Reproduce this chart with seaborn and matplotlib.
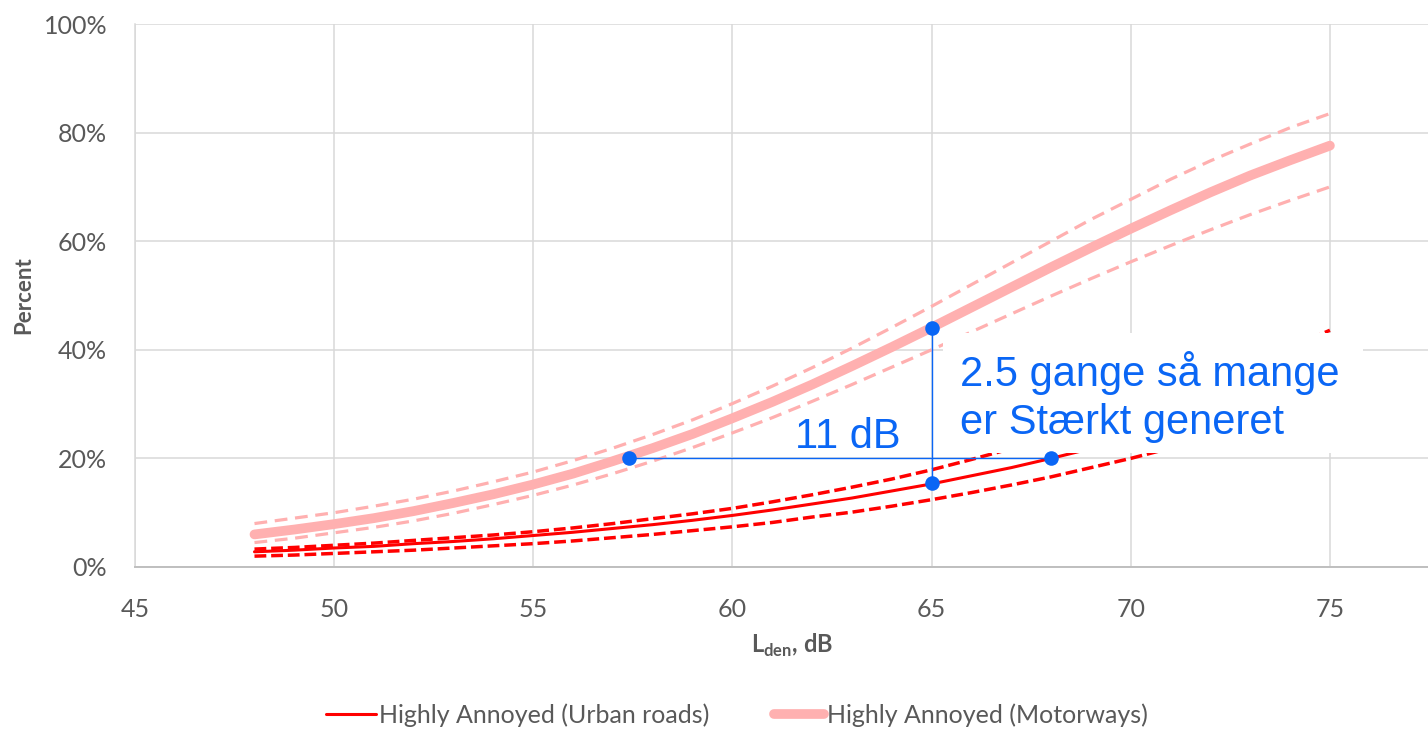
import matplotlib
matplotlib.use("Agg")
import matplotlib.pyplot as plt
from matplotlib.patches import Rectangle
from matplotlib.ticker import PercentFormatter
from matplotlib.lines import Line2D
import seaborn as sns

# Noise level, L_den in dB
lden = [48, 49, 50, 51, 52, 53, 54, 55, 56, 57, 58, 59, 60, 61,
        62, 63, 64, 65, 66, 67, 68, 69, 70, 71, 72, 73, 74, 75]

# Percent highly annoyed – motorways (mean and confidence band)
motorway_mean = [6.0, 6.9, 7.9, 9.0, 10.3, 11.8, 13.4, 15.2, 17.2, 19.5, 21.9, 24.5, 27.4, 30.4,
                 33.6, 37.0, 40.5, 44.1, 47.8, 51.5, 55.2, 58.8, 62.3, 65.7, 69.0, 72.1, 74.9, 77.6]
motorway_upper = [8.0, 9.0, 10.0, 11.2, 12.5, 14.0, 15.7, 17.5, 19.6, 21.9, 24.4, 27.1, 30.1, 33.3,
                  36.7, 40.3, 44.1, 48.0, 52.0, 56.0, 60.0, 64.0, 67.7, 71.4, 74.8, 77.9, 80.9, 83.5]
motorway_lower = [4.5, 5.3, 6.3, 7.3, 8.5, 9.9, 11.5, 13.2, 15.1, 17.2, 19.5, 22.0, 24.7, 27.5,
                  30.5, 33.6, 36.8, 40.0, 43.3, 46.6, 49.9, 53.1, 56.2, 59.2, 62.1, 64.9, 67.5, 70.0]

# Percent highly annoyed – urban roads (mean and confidence band)
urban_mean = [2.8, 3.1, 3.5, 3.8, 4.3, 4.7, 5.2, 5.8, 6.4, 7.1, 7.8, 8.6, 9.5, 10.5,
              11.6, 12.7, 14.0, 15.3, 16.8, 18.3, 20.0, 21.8, 23.7, 25.7, 27.8, 30.0, 32.3, 34.7]
urban_upper = [3.3, 3.6, 4.0, 4.4, 4.9, 5.4, 5.9, 6.5, 7.2, 8.0, 8.9, 9.8, 10.8, 12.0,
               13.3, 14.7, 16.2, 17.9, 19.8, 21.8, 23.9, 26.3, 28.8, 31.5, 34.3, 37.3, 40.4, 43.6]
urban_lower = [2.0, 2.2, 2.5, 2.8, 3.1, 3.5, 3.9, 4.3, 4.8, 5.4, 6.0, 6.7, 7.4, 8.2,
               9.2, 10.1, 11.2, 12.4, 13.7, 15.1, 16.6, 18.3, 20.0, 21.9, 23.9, 26.1, 28.3, 30.7]

# Comparison markers: equal annoyance (20 %) and equal level (65 dB)
equal_pct = 20
equal_pct_levels = [57.4, 68.0]
equal_level = 65
equal_level_pcts = [15.5, 44.1]

x_ticks = [45, 50, 55, 60, 65, 70, 75]
y_ticks = [0, 20, 40, 60, 80, 100]

legend_labels = ["Highly Annoyed (Urban roads)", "Highly Annoyed (Motorways)"]
gap_label = "11 dB"
ratio_label = "2.5 gange så mange\ner Stærkt generet"

sns.set_theme(style="whitegrid")
plt.rcParams["font.family"] = ["Lato", "DejaVu Sans"]
plt.rcParams["mathtext.fontset"] = "custom"
plt.rcParams["mathtext.rm"] = "Lato"
plt.rcParams["mathtext.bf"] = "Lato:bold"

TXT = "#595959"
GRID = "#D9D9D9"
PINK = "#FFB0B0"
RED = "#FF0000"
BLUE = "#0A66F5"

fig = plt.figure(figsize=(14.28, 7.29), dpi=100)
ax = fig.add_axes([135 / 1428, 162 / 729, 1 - 135 / 1428, 543 / 729])

# Motorways
sns.lineplot(x=lden, y=motorway_upper, ax=ax, color=PINK, lw=2.3,
             linestyle=(0, (4, 2.4)), zorder=2)
sns.lineplot(x=lden, y=motorway_lower, ax=ax, color=PINK, lw=2.3,
             linestyle=(0, (4, 2.4)), zorder=2)
sns.lineplot(x=lden, y=motorway_mean, ax=ax, color=PINK, lw=7,
             solid_capstyle="round", zorder=2.1)

# Urban roads
sns.lineplot(x=lden, y=urban_upper, ax=ax, color=RED, lw=2.5,
             linestyle=(0, (3.4, 1.4)), zorder=2.2)
sns.lineplot(x=lden, y=urban_lower, ax=ax, color=RED, lw=2.5,
             linestyle=(0, (3.4, 1.4)), zorder=2.2)
sns.lineplot(x=lden, y=urban_mean, ax=ax, color=RED, lw=2.2, zorder=2.3)

ax.set_xlim(45, 45 + (1428 - 135) / 39.83)
ax.set_ylim(0, 100)
ax.set_xticks(x_ticks)
ax.set_yticks(y_ticks)
ax.yaxis.set_major_formatter(PercentFormatter(100, decimals=0))
ax.grid(True, color=GRID, lw=1.1)
ax.set_facecolor("white")
for side in ["top", "right"]:
    ax.spines[side].set_visible(False)
ax.spines["left"].set_color(GRID)
ax.spines["left"].set_linewidth(1.1)
ax.spines["bottom"].set_color("#BFBFBF")
ax.spines["bottom"].set_linewidth(1.4)
ax.tick_params(axis="both", length=0, labelsize=18, labelcolor=TXT)
ax.tick_params(axis="x", pad=22)
ax.tick_params(axis="y", pad=20)

ax.set_xlabel(r"$\mathbf{L}_{\mathbf{den}}$, dB", fontsize=17,
              fontweight="bold", color=TXT)
ax.xaxis.set_label_coords((792 - 135) / 1293, (567 - 632) / 543)
ax.set_ylabel("Percent", fontsize=16, fontweight="bold", color=TXT)
ax.yaxis.set_label_coords((34 - 135) / 1293, 0.5)

# White label box over the curves
ax.add_patch(Rectangle((65.29, 21.0), 10.54, 22.1, facecolor="white",
                       edgecolor="none", zorder=3, clip_on=False))

# Blue comparison lines and points
ax.plot(equal_pct_levels, [equal_pct, equal_pct], color=BLUE, lw=1.0, zorder=4)
ax.plot([equal_level, equal_level], equal_level_pcts, color=BLUE, lw=1.0, zorder=4)
ax.scatter(equal_pct_levels, [equal_pct, equal_pct], s=110, color=BLUE,
           zorder=5, linewidths=0)
ax.scatter([equal_level, equal_level], equal_level_pcts, s=110, color=BLUE,
           zorder=5, linewidths=0)

ax.text(62.9, 23.9, gap_label, color=BLUE, fontsize=30, ha="center",
        va="center", family=["Liberation Sans", "DejaVu Sans"], zorder=6)
ax.text(65.71, 31.3, ratio_label, color=BLUE, fontsize=30, ha="left",
        va="center", linespacing=1.25, family=["Liberation Sans", "DejaVu Sans"],
        zorder=6)

handles = [Line2D([], [], color=RED, lw=2.2),
           Line2D([], [], color=PINK, lw=7, solid_capstyle="round")]
fig.legend(handles, legend_labels, loc="center", ncol=2, frameon=False,
           bbox_to_anchor=(737 / 1428, 14 / 729), fontsize=18,
           labelcolor=TXT, handlelength=2.0, handletextpad=0.1,
           columnspacing=2.6)

fig.savefig("out.png", dpi=100, facecolor="white")
